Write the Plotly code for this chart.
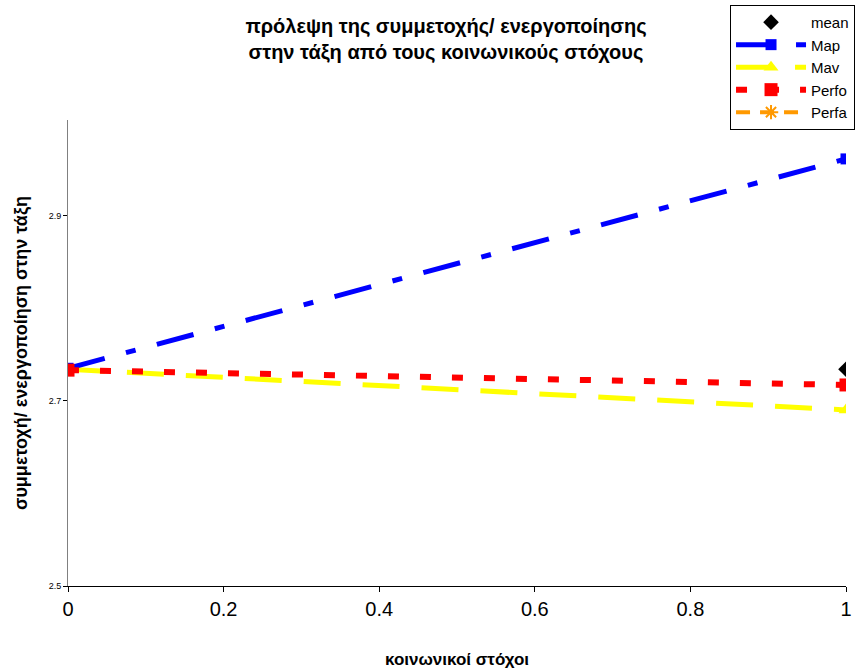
import plotly.graph_objects as go

x_vals = [0, 1]
mean_x = [1]
mean_y = [2.734]
map_y = [2.735, 2.961]
mav_y = [2.734, 2.690]
perfo_y = [2.733, 2.717]
perfa_y = [None, None]

title_text = "<b>πρόλεψη της συμμετοχής/ ενεργοποίησης<br>στην τάξη από τους κοινωνικούς στόχους</b>"
x_title = "<b>κοινωνικοί στόχοι</b>"
y_title = "<b>συμμετοχή/ ενεργοποίηση στην τάξη</b>"
x_ticks = [0, 0.2, 0.4, 0.6, 0.8, 1]
y_ticks = [2.5, 2.7, 2.9]

narrow = "Liberation Sans Narrow, Arial Narrow, Liberation Sans, Arial, sans-serif"

fig = go.Figure()

fig.add_trace(go.Scatter(
    x=x_vals, y=perfa_y, name="Perfa", mode="lines+markers", legendrank=5,
    line=dict(color="#FF9900", width=4, dash="14px,10px"),
    marker=dict(symbol="asterisk-open", size=12, color="#FF9900", line=dict(width=2, color="#FF9900"))))
fig.add_trace(go.Scatter(
    x=x_vals, y=mav_y, name="Mav", mode="lines+markers", legendrank=3,
    line=dict(color="#FFFF00", width=5, dash="37px,22px"),
    marker=dict(symbol="triangle-up", size=13, color="#FFFF00")))
fig.add_trace(go.Scatter(
    x=x_vals, y=map_y, name="Map", mode="lines+markers", legendrank=2,
    line=dict(color="#0000FF", width=5, dash="38px,22px,10px,22px"),
    marker=dict(symbol="square", size=11, color="#0000FF")))
fig.add_trace(go.Scatter(
    x=x_vals, y=perfo_y, name="Perfo", mode="lines+markers", legendrank=4,
    line=dict(color="#FF0000", width=6, dash="11px,21px"),
    marker=dict(symbol="square", size=13, color="#FF0000")))
fig.add_trace(go.Scatter(
    x=mean_x, y=mean_y, name="mean", mode="markers", legendrank=1,
    marker=dict(symbol="diamond", size=12, color="#000000")))

fig.update_layout(
    width=856, height=669,
    paper_bgcolor="white", plot_bgcolor="white",
    margin=dict(l=68, r=10, t=120, b=83, autoexpand=False),
    font=dict(family="Arial, Liberation Sans, sans-serif", color="black"),
    title=dict(text=title_text, x=0.521, xanchor="center", y=0.95, yanchor="top",
               font=dict(size=20, color="black")),
    showlegend=True,
    legend=dict(x=1.0116, xanchor="right", y=1.247, yanchor="top",
                bordercolor="black", borderwidth=1, bgcolor="white",
                font=dict(size=15, color="black"), itemwidth=70,
                tracegroupgap=0),
    xaxis=dict(range=[0, 1], tickvals=x_ticks, ticktext=[f"{v:g}" for v in x_ticks],
               showgrid=False, zeroline=False, showline=True, linecolor="black", linewidth=1,
               ticks="outside", ticklen=5, tickcolor="black",
               tickfont=dict(size=20, color="black", family=narrow),
               title=dict(text=x_title, font=dict(size=17, color="black", family=narrow), standoff=35)),
    yaxis=dict(range=[2.5, 3.003], tickvals=y_ticks, ticktext=[f"{v:g}" for v in y_ticks],
               showgrid=False, zeroline=False, showline=True, linecolor="#808080", linewidth=1,
               ticks="outside", ticklen=4, tickcolor="black",
               tickfont=dict(size=9, color="black"),
               title=dict(text=y_title, font=dict(size=18, color="black"), standoff=16)),
)

fig.write_html("out.html")
